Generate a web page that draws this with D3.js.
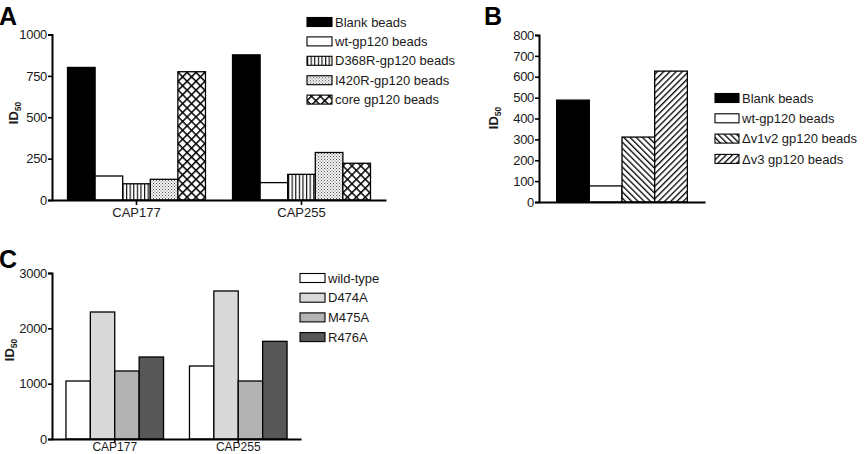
<!DOCTYPE html>
<html><head><meta charset="utf-8">
<script src="https://cdn.jsdelivr.net/npm/d3@7/dist/d3.min.js"></script>
<style>
html,body{margin:0;padding:0;background:#fff;}
svg{display:block;font-family:"Liberation Sans",Arial,sans-serif;}
</style></head>
<body>
<svg id="chart" width="868" height="454"></svg>
<script>
// ---------- DATA ----------
const groupsA = ["CAP177", "CAP255"];
const seriesA = ["Blank beads", "wt-gp120 beads", "D368R-gp120 beads", "I420R-gp120 beads", "core gp120 beads"];
const cap177A = [801, 145, 98, 125, 775];
const cap255A = [877, 105, 155, 287, 222];
const ticksA = [0, 250, 500, 750, 1000];

const seriesB = ["Blank beads", "wt-gp120 beads", "\u0394v1v2 gp120 beads", "\u0394v3 gp120 beads"];
const valuesB = [488, 77, 311, 627];
const ticksB = [0, 100, 200, 300, 400, 500, 600, 700, 800];

const groupsC = ["CAP177", "CAP255"];
const seriesC = ["wild-type", "D474A", "M475A", "R476A"];
const cap177C = [1048, 2295, 1229, 1482];
const cap255C = [1319, 2675, 1048, 1765];
const ticksC = [0, 1000, 2000, 3000];

// ---------- STYLES ----------
const fillsA = ["#000", "#fff", "url(#vert)", "url(#dots)", "url(#cross)"];
const fillsB = ["#000", "#fff", "url(#back)", "url(#fwd)"];
const fillsC = ["#fff", "#d9d9d9", "#b3b3b3", "#575757"];

const svg = d3.select("#chart");
const defs = svg.append("defs");

// vertical lines
let p = defs.append("pattern").attr("id", "vert").attr("patternUnits", "userSpaceOnUse")
  .attr("width", 3.6).attr("height", 10);
p.append("rect").attr("width", 3.6).attr("height", 10).attr("fill", "#fff");
p.append("line").attr("x1", 0.6).attr("x2", 0.6).attr("y1", 0).attr("y2", 10).attr("stroke", "#000").attr("stroke-width", 1.1);
// dots
p = defs.append("pattern").attr("id", "dots").attr("patternUnits", "userSpaceOnUse")
  .attr("width", 3).attr("height", 3);
p.append("rect").attr("width", 3).attr("height", 3).attr("fill", "#f4f4f4");
p.append("rect").attr("x", 0).attr("y", 0).attr("width", 1).attr("height", 1).attr("fill", "#555");
p.append("rect").attr("x", 1.5).attr("y", 1.5).attr("width", 1).attr("height", 1).attr("fill", "#777");
// crosshatch
p = defs.append("pattern").attr("id", "cross").attr("patternUnits", "userSpaceOnUse")
  .attr("width", 6.3).attr("height", 6.3).attr("patternTransform", "rotate(45)");
p.append("rect").attr("width", 6.3).attr("height", 6.3).attr("fill", "#fff");
p.append("line").attr("x1", 0).attr("x2", 0).attr("y1", 0).attr("y2", 6.3).attr("stroke", "#000").attr("stroke-width", 3);
p.append("line").attr("x1", 0).attr("x2", 6.3).attr("y1", 0).attr("y2", 0).attr("stroke", "#000").attr("stroke-width", 3);
// back diagonal "\"
p = defs.append("pattern").attr("id", "back").attr("patternUnits", "userSpaceOnUse")
  .attr("width", 4.4).attr("height", 10).attr("patternTransform", "rotate(-45)");
p.append("rect").attr("width", 4.4).attr("height", 10).attr("fill", "#fff");
p.append("line").attr("x1", 0.7).attr("x2", 0.7).attr("y1", 0).attr("y2", 10).attr("stroke", "#000").attr("stroke-width", 1.3);
// forward diagonal "/"
p = defs.append("pattern").attr("id", "fwd").attr("patternUnits", "userSpaceOnUse")
  .attr("width", 4.4).attr("height", 10).attr("patternTransform", "rotate(45)");
p.append("rect").attr("width", 4.4).attr("height", 10).attr("fill", "#fff");
p.append("line").attr("x1", 0.7).attr("x2", 0.7).attr("y1", 0).attr("y2", 10).attr("stroke", "#000").attr("stroke-width", 1.3);

const txtCol = "#1a1a1a";

function panel(cfg) {
  const g = svg.append("g");
  const x = d3.scaleBand().domain(cfg.groups).range(cfg.xr)
    .paddingInner(cfg.pi).paddingOuter(cfg.po);
  const y = d3.scaleLinear().domain(cfg.yd).range(cfg.yr);
  const xi = d3.scaleBand().domain(d3.range(cfg.series.length)).range([0, x.bandwidth()]);

  // bars
  cfg.groups.forEach((grp, gi) => {
    const vals = cfg.values[gi];
    g.append("g").selectAll("rect").data(vals).join("rect")
      .attr("x", (d, i) => x(grp) + xi(i))
      .attr("y", d => y(d))
      .attr("width", xi.bandwidth())
      .attr("height", d => y(0) - y(d))
      .attr("fill", (d, i) => cfg.fills[i])
      .attr("stroke", "#000").attr("stroke-width", 1.3);
  });

  // y axis
  const ya = g.append("g").attr("transform", `translate(${cfg.xr[0]},0)`)
    .call(d3.axisLeft(y).tickValues(cfg.ticks).tickSize(4).tickSizeOuter(4).tickPadding(1).tickFormat(d3.format("d")));
  ya.select(".domain").attr("stroke", "#000").attr("stroke-width", 2);
  ya.selectAll(".tick line").attr("stroke", "#000").attr("stroke-width", 1.6);
  ya.selectAll("text").attr("font-size", 13).attr("fill", txtCol)
    .attr("font-family", "'Liberation Sans',Arial,sans-serif").attr("letter-spacing", "-0.3");

  // x axis
  const xa = g.append("g").attr("transform", `translate(0,${cfg.yr[0]})`)
    .call(d3.axisBottom(x).tickSize(cfg.showX ? cfg.xtick : 0).tickSizeOuter(0).tickPadding(cfg.xpad));
  xa.select(".domain").attr("stroke", "#000").attr("stroke-width", 2.2);
  xa.selectAll(".tick line").attr("stroke", "#000").attr("stroke-width", 1.6);
  xa.selectAll("text").attr("font-size", cfg.xfs).attr("fill", txtCol)
    .attr("font-family", "'Liberation Sans',Arial,sans-serif")
    .style("display", cfg.showX ? null : "none");

  // y label
  const yl = g.append("text")
    .attr("transform", `translate(${cfg.ylx},${cfg.yly}) rotate(-90)`)
    .attr("text-anchor", "middle").attr("font-weight", "bold").attr("font-size", 13).attr("fill", txtCol);
  yl.append("tspan").text("ID");
  yl.append("tspan").attr("font-size", 8.5).attr("dy", 3).text("50");

  // panel letter
  g.append("text").attr("x", cfg.lx).attr("y", cfg.ly).attr("font-size", 25)
    .attr("font-weight", "bold").attr("font-family", "'Liberation Sans',Arial,sans-serif").text(cfg.letter);

  // legend
  const lg = g.append("g").selectAll("g").data(cfg.series).join("g")
    .attr("transform", (d, i) => `translate(${cfg.legX},${cfg.legY + i * cfg.legStep})`);
  lg.append("rect").attr("x", 0).attr("y", -4.5).attr("width", cfg.swW).attr("height", 9)
    .attr("fill", (d, i) => cfg.fills[i]).attr("stroke", "#000").attr("stroke-width", 1.1);
  lg.append("text").attr("x", cfg.swW + 3).attr("y", 0).attr("dy", "0.36em")
    .attr("font-size", 13).attr("fill", txtCol).text(d => d);
}

panel({
  groups: groupsA, series: seriesA, values: [cap177A, cap255A], fills: fillsA,
  xr: [52, 386], yr: [200, 34.5], yd: [0, 1000], ticks: ticksA, pi: 0.164, po: 0.094,
  showX: true, xtick: 5, xpad: 3, xfs: 13, ylx: 18, yly: 113, letter: "A", lx: -1, ly: 25,
  legX: 307, legY: 22, legStep: 19.4, swW: 25
});

panel({
  groups: ["B"], series: seriesB, values: [valuesB], fills: fillsB,
  xr: [539, 705], yr: [202, 35], yd: [0, 800], ticks: ticksB, pi: 0, po: 0.135,
  showX: false, xtick: 0, xpad: 3, xfs: 13, ylx: 498, yly: 118, letter: "B", lx: 484, ly: 25,
  legX: 715, legY: 98, legStep: 20.3, swW: 24
});

panel({
  groups: groupsC, series: seriesC, values: [cap177C, cap255C], fills: fillsC,
  xr: [52, 301], yr: [439, 273], yd: [0, 3000], ticks: ticksC, pi: 0.21, po: 0.113,
  showX: true, xtick: 4, xpad: -1, xfs: 12, ylx: 14, yly: 350, letter: "C", lx: -1, ly: 268,
  legX: 300, legY: 278, legStep: 19.7, swW: 25
});
</script>
</body></html>
